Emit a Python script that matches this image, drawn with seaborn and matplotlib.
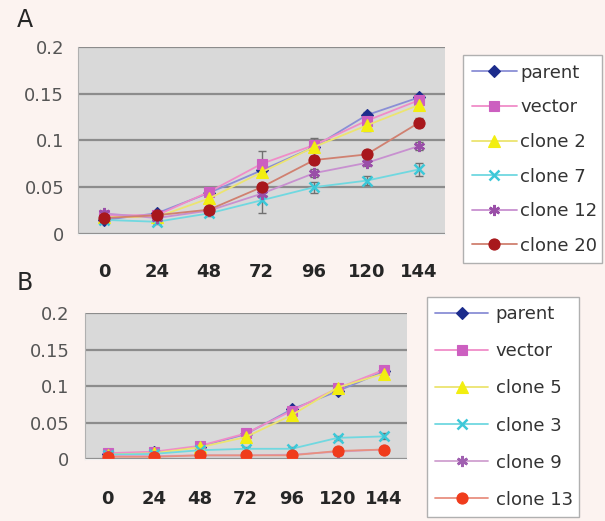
import numpy as np
import pandas as pd
import seaborn as sns
import matplotlib.pyplot as plt
from matplotlib.lines import Line2D

sns.set_style("white")
plt.rcParams['font.family'] = ['DejaVu Sans']

hours = ['0', '24', '48', '72', '96', '120', '144']

# panel A
names_a = ['parent', 'vector', 'clone 2', 'clone 7', 'clone 12', 'clone 20']
parent_a = [0.015, 0.022, 0.044, 0.068, 0.093, 0.127, 0.146]
vector_a = [0.020, 0.020, 0.045, 0.075, 0.095, 0.121, 0.143]
clone2_a = [0.018, 0.018, 0.038, 0.066, 0.093, 0.116, 0.138]
clone7_a = [0.015, 0.013, 0.022, 0.036, 0.050, 0.057, 0.069]
clone12_a = [0.022, 0.017, 0.025, 0.043, 0.065, 0.076, 0.094]
clone20_a = [0.017, 0.020, 0.026, 0.050, 0.079, 0.085, 0.119]
err_parent_a = [0.002, 0.002, 0.003, 0.004, 0.004, 0.003, 0.003]
err_vector_a = [0.002, 0.002, 0.003, 0.014, 0.005, 0.004, 0.003]
err_clone2_a = [0.002, 0.002, 0.003, 0.004, 0.010, 0.006, 0.005]
err_clone7_a = [0.002, 0.002, 0.003, 0.014, 0.006, 0.005, 0.007]
err_clone12_a = [0.002, 0.002, 0.003, 0.004, 0.004, 0.003, 0.004]
err_clone20_a = [0.002, 0.002, 0.003, 0.004, 0.004, 0.004, 0.005]

# panel B
names_b = ['parent', 'vector', 'clone 5', 'clone 3', 'clone 9', 'clone 13']
parent_b = [0.007, 0.009, 0.017, 0.034, 0.068, 0.093, 0.120]
vector_b = [0.008, 0.010, 0.018, 0.035, 0.066, 0.097, 0.122]
clone5_b = [0.006, 0.008, 0.016, 0.030, 0.060, 0.098, 0.117]
clone3_b = [0.006, 0.007, 0.012, 0.014, 0.014, 0.029, 0.031]
clone9_b = [0.004, 0.004, 0.005, 0.005, 0.006, 0.010, 0.013]
clone13_b = [0.003, 0.003, 0.005, 0.005, 0.005, 0.011, 0.013]
err_b = [0.001, 0.001, 0.002, 0.003, 0.003, 0.003, 0.004]

marker_cols_a = ['#1C2C8C', '#CC5FC0', '#F2EE10', '#3CC8D8', '#9A4FA8', '#A8181C']
line_cols_a = ['#8A8FD6', '#F08CC8', '#ECE470', '#70D8E0', '#C890D0', '#D08070']
marker_cols_b = ['#1C2C8C', '#CC5FC0', '#F2EE10', '#3CC8D8', '#A060B0', '#F03C1C']
line_cols_b = ['#8A8FD6', '#F08CC8', '#ECE470', '#70D8E0', '#D0A0D0', '#E89080']
markers = ['D', 's', '^', 'x', (6, 2, 0), 'o']
sizes = [6, 7, 8, 7, 8, 8]

bg = '#FCF3F0'
fig = plt.figure(figsize=(6.05, 5.21), dpi=100, facecolor=bg)
ax_a = fig.add_axes([0.129, 0.551, 0.607, 0.359])
ax_b = fig.add_axes([0.140, 0.119, 0.532, 0.280])


def draw(ax, names, values, errs, mcols, lcols, ypad, xpad):
    df = pd.DataFrame({
        'hour': hours * len(names),
        'value': np.concatenate(values),
        'series': np.repeat(names, len(hours)),
    })
    sns.pointplot(data=df, x='hour', y='value', hue='series', hue_order=names,
                  order=hours, palette=mcols, markers=markers, linestyles='-',
                  errorbar=None, legend=False, ax=ax)
    handles = []
    for line, mc, lc, mk, ms in zip(ax.lines, mcols, lcols, markers, sizes):
        mew = 1.8 if mk in ('x', (6, 2, 0)) else 0.8
        line.set_color(lc)
        line.set_linewidth(1.3)
        line.set_marker(mk)
        line.set_markersize(ms)
        line.set_markerfacecolor(mc)
        line.set_markeredgecolor(mc)
        line.set_markeredgewidth(mew)
        handles.append(Line2D([], [], color=lc, lw=1.3, marker=mk, ms=ms,
                              mfc=mc, mec=mc, mew=mew))
    pos = np.arange(len(hours))
    for v, e in zip(values, errs):
        ax.errorbar(pos, v, yerr=e, fmt='none', ecolor='#707070',
                    elinewidth=1, capsize=3, zorder=1)
    ax.set_facecolor('#D9D9D9')
    ax.set_xlim(-0.5, len(hours) - 0.5)
    ax.set_ylim(0, 0.2)
    ax.set_yticks([0, 0.05, 0.1, 0.15, 0.2])
    ax.set_yticklabels(['0', '0.05', '0.1', '0.15', '0.2'])
    ax.yaxis.grid(True, color='#8C8C8C', lw=1.6)
    ax.set_axisbelow(True)
    for s in ['top', 'right']:
        ax.spines[s].set_visible(False)
    ax.spines['left'].set_color('#B0B0B0')
    ax.spines['bottom'].set_color('#F0F0F0')
    ax.tick_params(axis='y', labelsize=13, labelcolor='#555555', length=0, pad=ypad)
    ax.tick_params(axis='x', labelsize=13, length=0, pad=xpad)
    for t in ax.get_xticklabels():
        t.set_fontweight('bold')
    ax.set_xlabel('')
    ax.set_ylabel('')
    return handles


h_a = draw(ax_a, names_a,
           [parent_a, vector_a, clone2_a, clone7_a, clone12_a, clone20_a],
           [err_parent_a, err_vector_a, err_clone2_a, err_clone7_a,
            err_clone12_a, err_clone20_a],
           marker_cols_a, line_cols_a, 10, 21)
h_b = draw(ax_b, names_b,
           [parent_b, vector_b, clone5_b, clone3_b, clone9_b, clone13_b],
           [err_b] * 6, marker_cols_b, line_cols_b, 11, 22)

leg_a = fig.legend(h_a, names_a, loc='upper left',
                   bbox_to_anchor=(0.7653, 0.8944, 0.2298, 0.0), mode='expand',
                   borderaxespad=0, fontsize=13, labelspacing=0.92,
                   handlelength=2.5, handletextpad=0.2, borderpad=0.48,
                   frameon=True, fancybox=False, edgecolor='#B0B0B0',
                   facecolor='white', framealpha=1)
leg_b = fig.legend(h_b, names_b, loc='upper left',
                   bbox_to_anchor=(0.7058, 0.430, 0.2512, 0.0), mode='expand',
                   borderaxespad=0, fontsize=13, labelspacing=1.06,
                   handlelength=2.95, handletextpad=0.4, borderpad=0.45,
                   frameon=True, fancybox=False, edgecolor='#B0B0B0',
                   facecolor='white', framealpha=1)
for leg in (leg_a, leg_b):
    for t in leg.get_texts():
        t.set_color('#333333')

fig.text(0.028, 0.962, 'A', fontsize=17, va='center')
fig.text(0.028, 0.457, 'B', fontsize=17, va='center')

fig.savefig('out.png', dpi=100, facecolor=bg)
